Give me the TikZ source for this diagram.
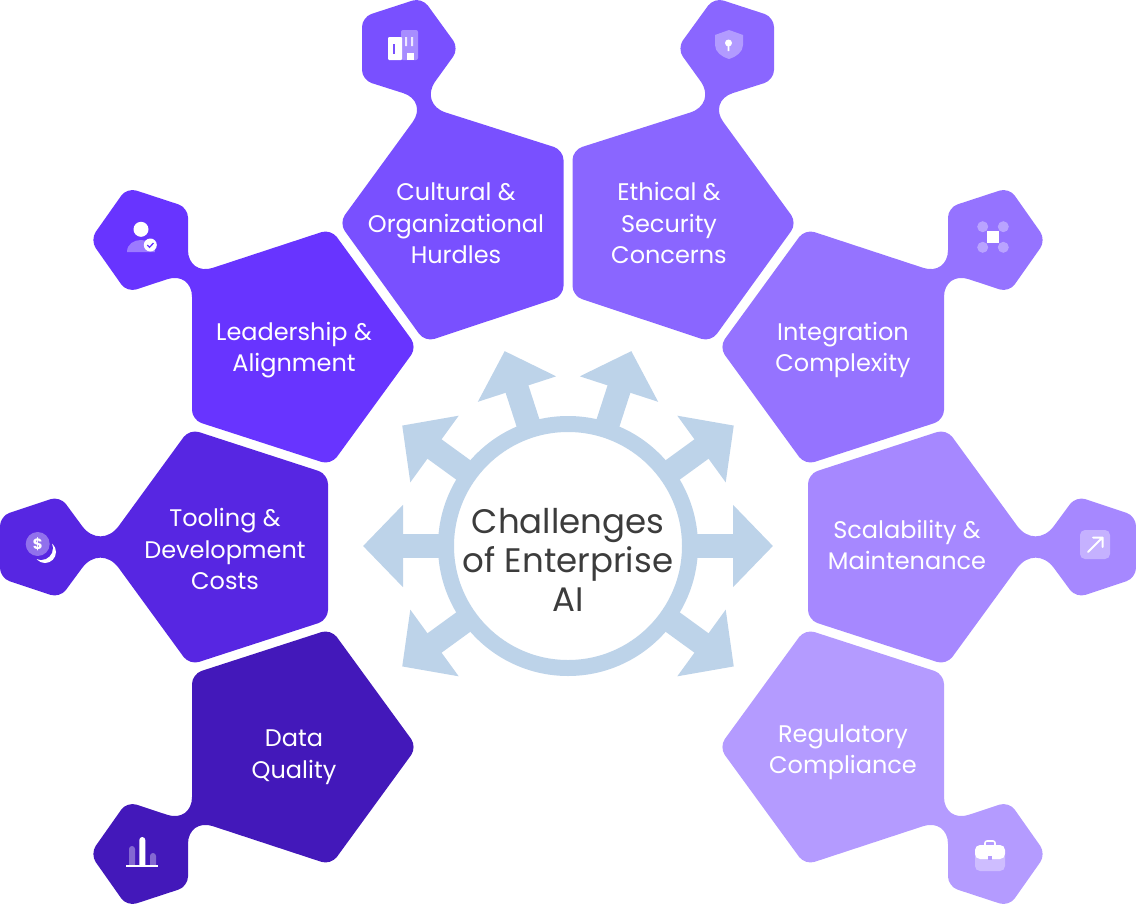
\documentclass[tikz,border=0pt]{standalone}
\usepackage{fontspec}
\setmainfont{Poppins}
\usetikzlibrary{arrows.meta,calc}

\definecolor{culturalc}{HTML}{7950FF}
\definecolor{ethicalc}{HTML}{8A66FF}
\definecolor{leaderc}{HTML}{6834FF}
\definecolor{integrc}{HTML}{9573FF}
\definecolor{toolc}{HTML}{5726E2}
\definecolor{scalec}{HTML}{A688FF}
\definecolor{dataco}{HTML}{4318BA}
\definecolor{regulc}{HTML}{B49BFF}
\definecolor{ringc}{HTML}{BDD3E9}
\definecolor{hubtext}{HTML}{3C3C3C}

\newcommand{\culturalshape}{(563.5,220) [rounded corners=10pt] -- (563.5,296) -- (425,342) -- (339,223)
    [rounded corners=26pt] -- (428,101) [rounded corners=10pt] -- (362,80) -- (362,17) -- (422,-2.5) -- (459,48.5)
    [rounded corners=28pt] -- (419,104) [rounded corners=10pt] -- (563.5,150) -- cycle}
\newcommand{\leadershape}{(192,347) [rounded corners=26pt] -- (192,271) [rounded corners=10pt] -- (127,292.5)
    -- (90,240) -- (127,187.5) -- (188,207.5) [rounded corners=26pt] -- (188,276) [rounded corners=10pt] -- (331,229)
    -- (417,347) -- (331,465) -- (192,420) -- cycle}
\newcommand{\toolshape}{(328,547) [rounded corners=10pt] -- (328,620) -- (189.5,665) [rounded corners=31pt] -- (100.5,543)
    [rounded corners=10pt] -- (60,598) -- (0,578) -- (0,516) -- (60,496) [rounded corners=31pt] -- (100.5,551)
    [rounded corners=10pt] -- (189.5,429) -- (328,474) -- cycle}

\tikzset{
    petallabel/.style={text=white,align=center,font=\fontsize{24}{31.5}\selectfont},
    mirrorx/.style={xshift=1136pt,xscale=-1},
    mirrory/.style={yshift=-1094pt,yscale=-1},
    spoke/.style={ringc,line width=24pt,-{Triangle[length=40pt,width=80pt]}},
    faint/.style={fill=white,fill opacity=.35},
}

\begin{document}
\begin{tikzpicture}[x=1pt,y=-1pt]
    \useasboundingbox (0,0) rectangle (1136,905);

    \fill[culturalc] \culturalshape;
    \begin{scope}[mirrorx]
        \fill[ethicalc] \culturalshape;
        \fill[integrc] \leadershape;
        \fill[scalec] \toolshape;
    \end{scope}
    \fill[leaderc] \leadershape;
    \fill[toolc] \toolshape;
    \begin{scope}[mirrory]
        \fill[dataco] \leadershape;
        \begin{scope}[mirrorx]
            \fill[regulc] \leadershape;
        \end{scope}
    \end{scope}

    \node[petallabel] (cultural) at (456,223.5) {Cultural \&\\ Organizational\\ Hurdles};
    \node[petallabel] (ethical) at (669,223) {Ethical \&\\ Security\\ Concerns};
    \node[petallabel] (leader) at (294,350) {Leadership \&\\ Alignment};
    \node[petallabel] (integr) at (843,350) {Integration\\ Complexity};
    \node[petallabel] (tool) at (225,549) {Tooling \&\\ Development\\ Costs};
    \node[petallabel] (scale) at (907,545) {Scalability \&\\ Maintenance};
    \node[petallabel] (data) at (294,757) {Data\\ Quality};
    \node[petallabel] (regul) at (843,752) {Regulatory\\ Compliance};

    \coordinate (hubc) at (568,546);
    \foreach \a in {0,36,-36,-72,-108,-144,180,144} {
        \coordinate (tip\a) at ($(hubc)+(\a:205)$);
        \draw[spoke] (hubc) -- (tip\a);
    }
    \node[circle,draw=ringc,line width=16pt,fill=white,minimum size=244pt] (hub) at (hubc) {};
    \node[text=hubtext,align=center,font=\fontsize{34}{39}\selectfont] (hubtitle) at (568,559.5) {Challenges\\ of Enterprise\\ AI};

    \fill[white,rounded corners=1pt] (388,37) rectangle (402,60);
    \fill[faint,rounded corners=2pt] (401,30) rectangle (418,60);
    \fill[culturalc] (393,44) rectangle (395,54);
    \fill[white] (407,60) rectangle (414,53);
    \fill[white,fill opacity=.8] (405,37) rectangle (407,46) (411,37) rectangle (413,46);

    \fill[faint] (729,30) -- (743,35) -- (743,45) .. controls (743,52) and (736,57) .. (729,59)
        .. controls (722,57) and (715,52) .. (715,45) -- (715,35) -- cycle;
    \fill[white] (728.5,43) circle (3.5pt) (727.7,44) rectangle (729.3,51);

    \fill[white] (141,229.3) circle (7.5pt);
    \fill[faint] (127,252) .. controls (127,244) and (134,240) .. (141,240) .. controls (148,240) and (155,244) .. (155,252) -- cycle;
    \fill[white] (150.3,245) circle (6.5pt);
    \draw[leaderc,line width=1.3pt] (147.3,245) -- (149.5,247.3) -- (153.5,243);

    \fill[white] (45,552) circle (11pt);
    \fill[toolc] (41,548) circle (12pt);
    \fill[faint] (37.7,544) circle (12pt);
    \node[text=white,inner sep=0pt,font=\fontsize{15}{15}\selectfont\bfseries] (dollar) at (37.7,544) {\$};

    \fill[white] (126,865) rectangle (158,867);
    \fill[faint] (129,866) -- (129,849) arc[start angle=180,end angle=360,radius=3] -- (135,866) -- cycle;
    \fill[white] (139.3,866) -- (139.3,840) arc[start angle=180,end angle=360,radius=3] -- (145.3,866) -- cycle;
    \fill[faint] (150,866) -- (150,856) arc[start angle=180,end angle=360,radius=3] -- (156,866) -- cycle;

    \foreach \px/\py in {982.7/226.7,1003.3/226.7,982.7/247.3,1003.3/247.3}
        \fill[faint] (\px,\py) circle (5.5pt);
    \fill[white] (986.5,230.5) rectangle (999,243);

    \fill[faint,rounded corners=5pt] (1080,530) rectangle (1110,559);
    \draw[white,line width=2pt,line cap=round,line join=round] (1088,552) -- (1102.5,537.5) (1093,537.5) -- (1102.5,537.5) -- (1102.5,547);

    \fill[faint,rounded corners=5pt] (975,850) rectangle (1005,871);
    \fill[white,rounded corners=5pt] (975,845) rectangle (1005,859);
    \draw[white,line width=1.6pt,rounded corners=2pt] (985,846) -- (985,841) -- (995,841) -- (995,846);
    \fill[regulc] (988,855.5) rectangle (991.5,860);
\end{tikzpicture}
\end{document}
